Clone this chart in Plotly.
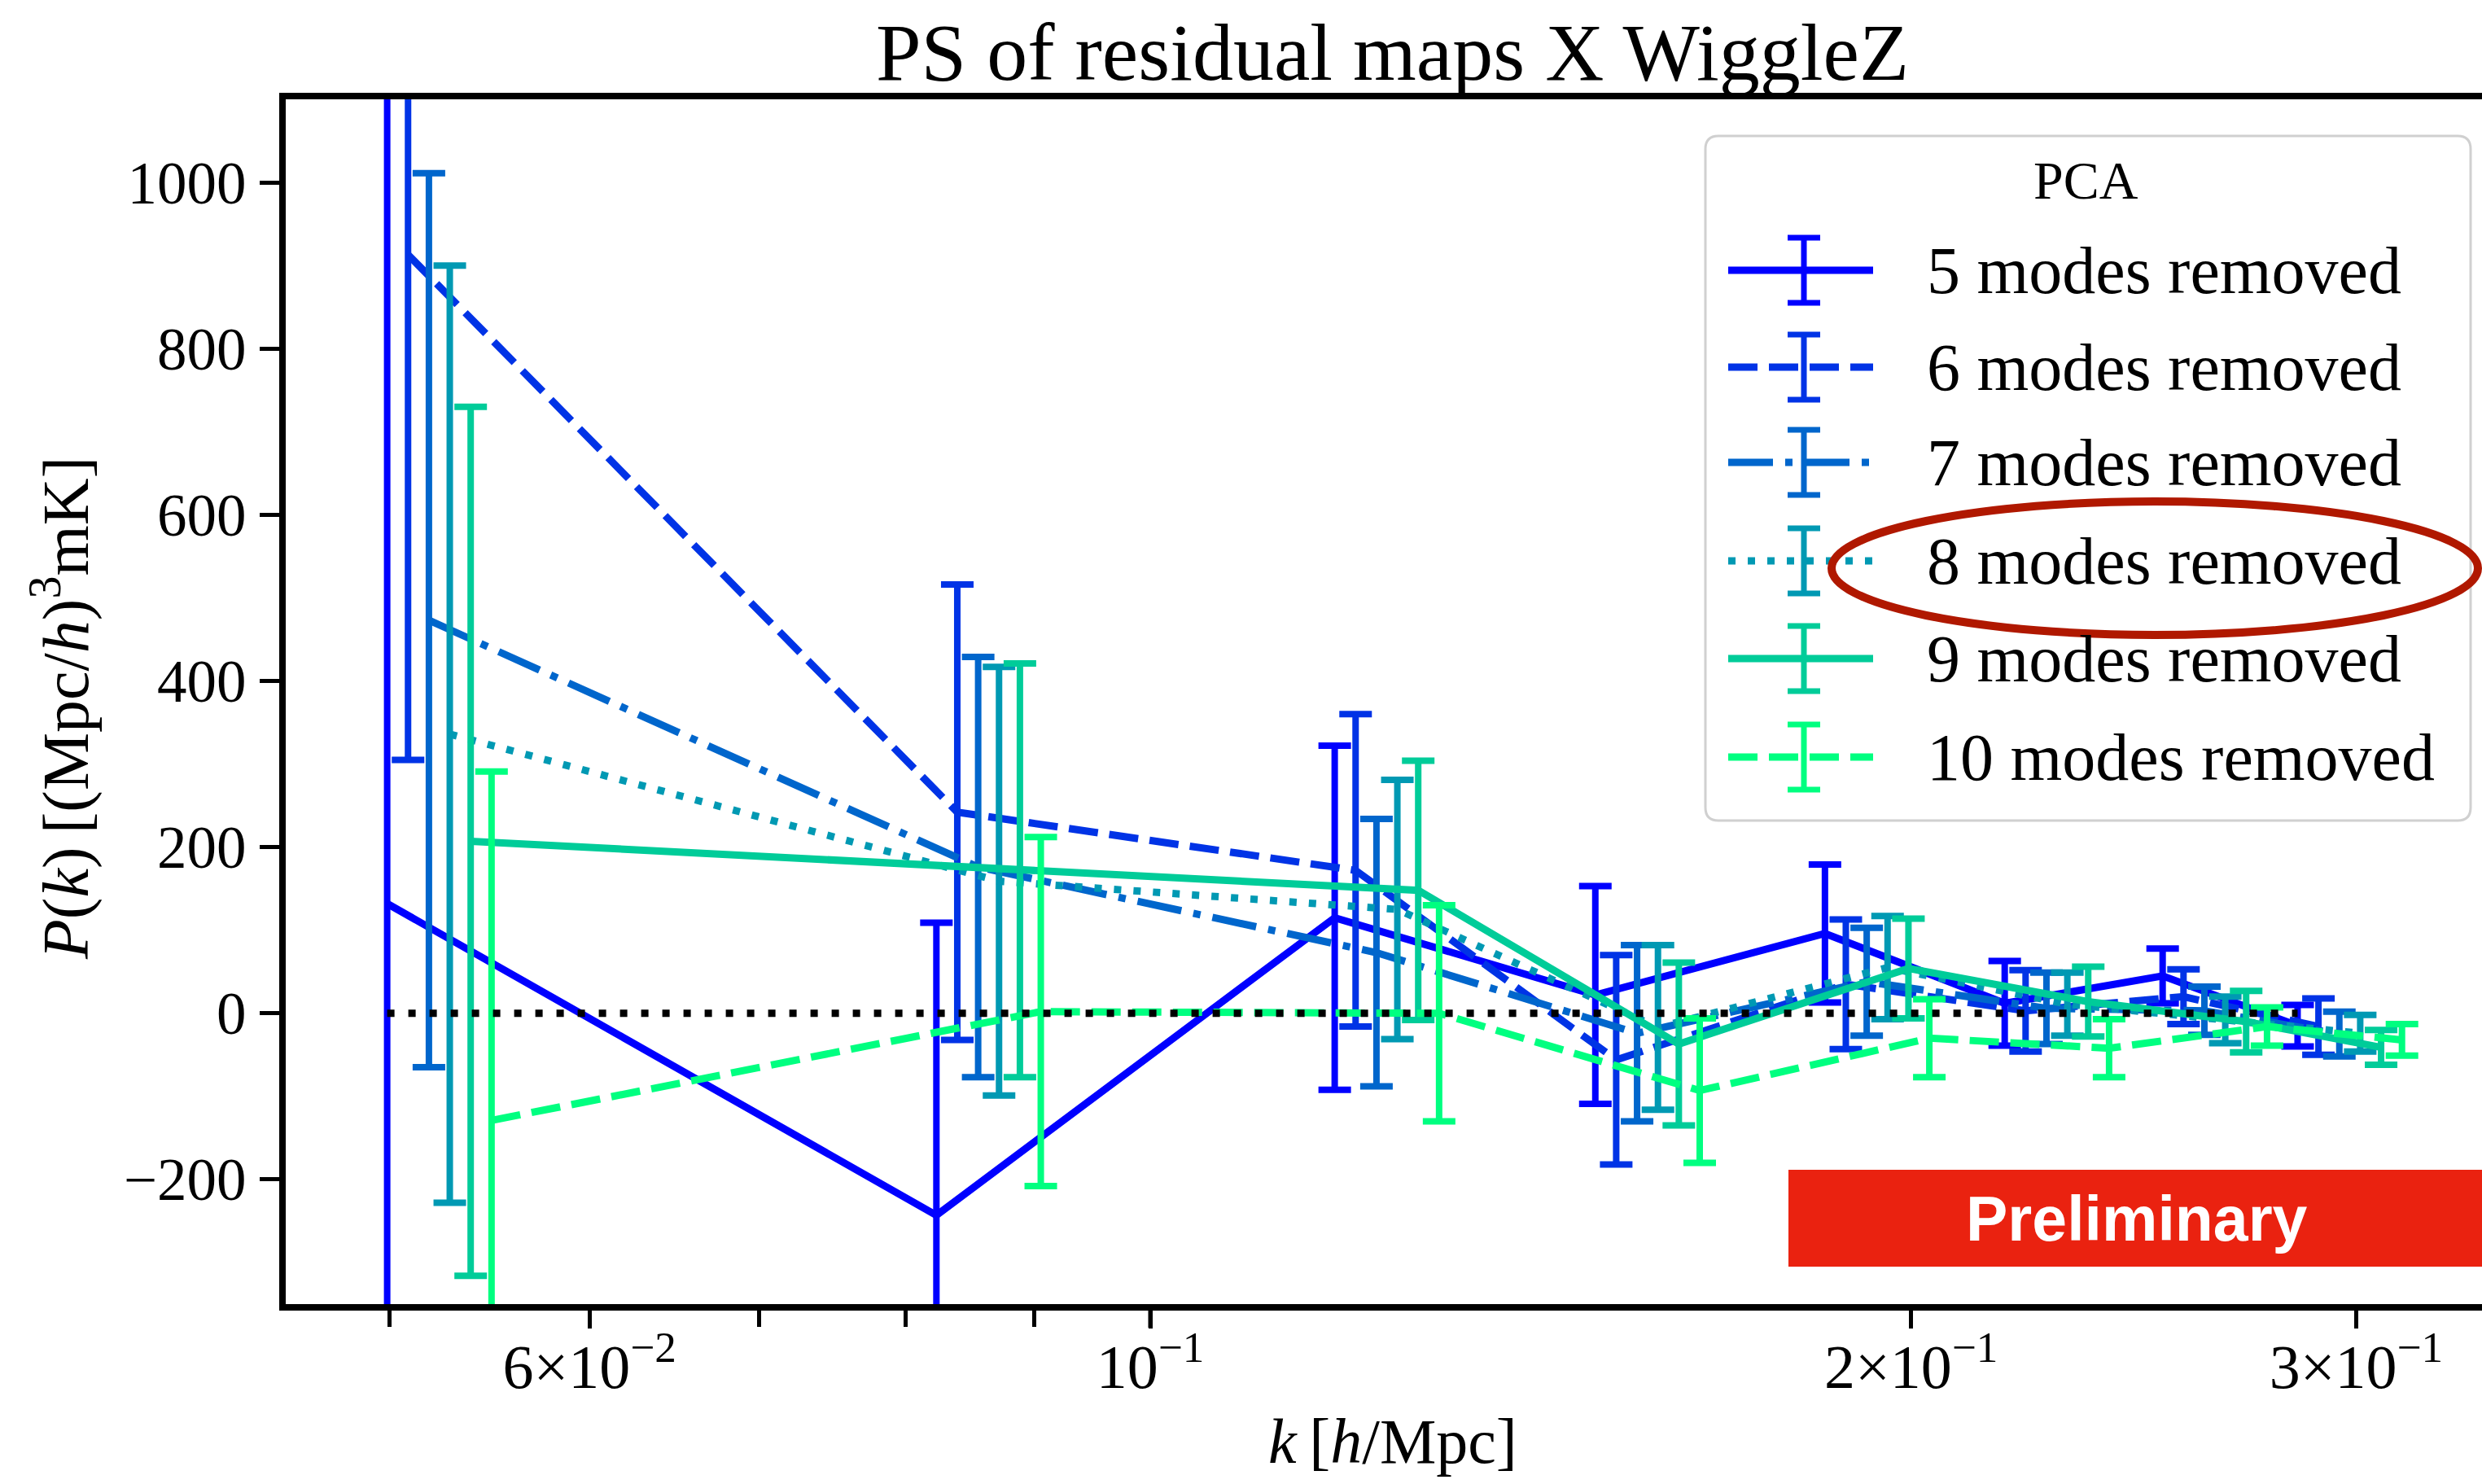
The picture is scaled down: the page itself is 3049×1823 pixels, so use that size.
import plotly.graph_objects as go

# ---------------- data ----------------
k_bins = [0.0499, 0.0823, 0.1183, 0.1500, 0.1849, 0.2178, 0.2515, 0.2844]

series_names = ["5 modes removed", "6 modes removed", "7 modes removed",
                "8 modes removed", "9 modes removed", "10 modes removed"]

pk_5 = [132, -243, 115, 22, 96, 12, 45, -15]
err_5 = [1300, 352, 207, 131, 83, 51, 33, 25]
pk_6 = [913, 242, 172, -56, 35, 3, 20, -16]
err_6 = [608, 274, 188, 126, 78, 49, 33, 34]
pk_7 = [473, 176, 73, -24, 38, 6, 3, -25]
err_7 = [538, 253, 161, 106, 65, 43, 29, 27]
pk_8 = [336, 159, 125, -17, 55, 11, -8, -24]
err_8 = [564, 258, 156, 99, 62, 38, 28, 22]
pk_9 = [207, 172, 148, -37, 54, 14, -10, -41]
err_9 = [523, 249, 156, 98, 60, 42, 37, 21]
pk_10 = [-129, 2, 0, -93, -30, -42, -16, -32]
err_10 = [420, 210, 130, 87, 47, 35, 23, 19]

pk_all = [pk_5, pk_6, pk_7, pk_8, pk_9, pk_10]
err_all = [err_5, err_6, err_7, err_8, err_9, err_10]

y_tick_vals = [-200, 0, 200, 400, 600, 800, 1000]
y_tick_text = ["\u2212200", "0", "200", "400", "600", "800", "1000"]
x_tick_vals = [0.06, 0.1, 0.2, 0.3]
x_tick_text = ["6\u00d710<sup>\u22122</sup>", "10<sup>\u22121</sup>",
               "2\u00d710<sup>\u22121</sup>", "3\u00d710<sup>\u22121</sup>"]
x_minor_vals = [0.05, 0.07, 0.08, 0.09]

# ---------------- style ----------------
colors = ["#0000ff", "#0033e6", "#0066cc", "#0099b3", "#00cc99", "#00ff80"]
dashes = ["solid", "36px,14px", "55px,15px,9px,15px", "9px,15px", "solid", "36px,14px"]
dodge = 1.0192  # multiplicative horizontal offset between series

W, H = 3049, 1823
L, R, T, B = 351, 3049, 122, 1602
SERIF = "Liberation Serif"


def fx(px):
    return (px - L) / (R - L)


def fy(py):
    return (B - py) / (B - T)


fig = go.Figure()

for j, (name, pk, er) in enumerate(zip(series_names, pk_all, err_all)):
    xs = [k * dodge ** j for k in k_bins]
    fig.add_trace(go.Scatter(
        x=xs, y=pk, mode="lines", name=name,
        line=dict(color=colors[j], width=9, dash=dashes[j]),
        error_y=dict(type="data", array=er, visible=True,
                     color=colors[j], thickness=8, width=20),
        showlegend=False,
    ))

# zero reference line
fig.add_trace(go.Scatter(
    x=k_bins, y=[0] * len(k_bins), mode="lines",
    line=dict(color="black", width=9, dash="9px,17px"),
    showlegend=False, hoverinfo="skip",
))

fig.update_layout(
    width=W, height=H, autosize=False,
    margin=dict(l=L, r=W - R, t=T, b=H - B, pad=0),
    paper_bgcolor="white", plot_bgcolor="white",
    font=dict(family=SERIF, size=73, color="black"),
    showlegend=False,
)

fig.update_xaxes(
    type="log",
    range=[-1.34203, -0.47311],
    showgrid=False, zeroline=False,
    showline=True, linecolor="black", linewidth=8, mirror=True,
    ticks="outside", ticklen=22, tickwidth=5, tickcolor="black",
    tickvals=x_tick_vals, ticktext=x_tick_text,
    tickfont=dict(family=SERIF, size=76),
    ticklabelstandoff=-18,
    minor=dict(tickvals=x_minor_vals, ticks="outside", ticklen=20,
               tickwidth=5, tickcolor="black", showgrid=False),
)
fig.update_yaxes(
    range=[-350, 1100],
    showgrid=False, zeroline=False,
    showline=True, linecolor="black", linewidth=8, mirror=False,
    ticks="outside", ticklen=24, tickwidth=5, tickcolor="black",
    tickvals=y_tick_vals, ticktext=y_tick_text,
    tickfont=dict(family=SERIF, size=73),
    ticklabelstandoff=2,
)

shapes = []
annotations = []

# longer major tick at 10^-1
shapes.append(dict(type="line", xref="x", yref="paper", x0=0.1, x1=0.1,
                   y0=0, y1=fy(B + 29), line=dict(color="black", width=5)))

# title and axis labels
annotations.append(dict(text="PS of residual maps X WiggleZ", xref="paper", yref="paper",
                        x=fx(1710), y=fy(64), xanchor="center", yanchor="middle",
                        showarrow=False, font=dict(family=SERIF, size=100)))
annotations.append(dict(text="<i>k</i>\u2009[<i>h</i>/Mpc]", xref="paper", yref="paper",
                        x=fx(1711), y=fy(1770), xanchor="center", yanchor="middle",
                        showarrow=False, font=dict(family=SERIF, size=78)))
annotations.append(dict(text="<i>P</i>(<i>k</i>)\u2009[(Mpc/<i>h</i>)<sup>3</sup>mK]",
                        xref="paper", yref="paper", textangle=-90,
                        x=fx(75), y=fy(870), xanchor="center", yanchor="middle",
                        showarrow=False, font=dict(family=SERIF, size=80)))

# legend box (rounded)
lx0, lx1, ly0, ly1, rr = 2095, 3035, 167, 1008, 16
path = (f"M {fx(lx0 + rr)},{fy(ly0)} L {fx(lx1 - rr)},{fy(ly0)} "
        f"Q {fx(lx1)},{fy(ly0)} {fx(lx1)},{fy(ly0 + rr)} "
        f"L {fx(lx1)},{fy(ly1 - rr)} Q {fx(lx1)},{fy(ly1)} {fx(lx1 - rr)},{fy(ly1)} "
        f"L {fx(lx0 + rr)},{fy(ly1)} Q {fx(lx0)},{fy(ly1)} {fx(lx0)},{fy(ly1 - rr)} "
        f"L {fx(lx0)},{fy(ly0 + rr)} Q {fx(lx0)},{fy(ly0)} {fx(lx0 + rr)},{fy(ly0)} Z")
shapes.append(dict(type="path", xref="paper", yref="paper", path=path,
                   fillcolor="rgba(255,255,255,0.85)", line=dict(color="#d0d0d0", width=3),
                   layer="above"))
annotations.append(dict(text="PCA", xref="paper", yref="paper", x=fx(2562), y=fy(221),
                        xanchor="center", yanchor="middle", showarrow=False,
                        font=dict(family=SERIF, size=66)))

entry_y = [332, 451, 568, 689, 809, 930]
for j, name in enumerate(series_names):
    yy = entry_y[j]
    shapes.append(dict(type="line", xref="paper", yref="paper",
                       x0=fx(2123), x1=fx(2301), y0=fy(yy), y1=fy(yy),
                       line=dict(color=colors[j], width=9, dash=dashes[j]), layer="above"))
    shapes.append(dict(type="line", xref="paper", yref="paper",
                       x0=fx(2216), x1=fx(2216), y0=fy(yy - 40), y1=fy(yy + 40),
                       line=dict(color=colors[j], width=7), layer="above"))
    for dy in (-40, 40):
        shapes.append(dict(type="line", xref="paper", yref="paper",
                           x0=fx(2196), x1=fx(2236), y0=fy(yy + dy), y1=fy(yy + dy),
                           line=dict(color=colors[j], width=7), layer="above"))
    annotations.append(dict(text=name, xref="paper", yref="paper", x=fx(2365), y=fy(yy),
                            xanchor="left", yanchor="middle", showarrow=False,
                            font=dict(family=SERIF, size=82)))

# red ellipse highlight
shapes.append(dict(type="circle", xref="paper", yref="paper",
                   x0=fx(2250), x1=fx(3044), y0=fy(616), y1=fy(780),
                   line=dict(color="#b01800", width=10), layer="above"))

# Preliminary banner
shapes.append(dict(type="rect", xref="paper", yref="paper",
                   x0=fx(2197), x1=fx(3049), y0=fy(1437), y1=fy(1556),
                   fillcolor="#ea2210", line=dict(width=0), layer="above"))
annotations.append(dict(text="<b>Preliminary</b>", xref="paper", yref="paper",
                        x=fx(2625), y=fy(1497), xanchor="center", yanchor="middle",
                        showarrow=False,
                        font=dict(family="Liberation Sans", size=77, color="white")))

fig.update_layout(shapes=shapes, annotations=annotations)
fig.write_html("out.html")
